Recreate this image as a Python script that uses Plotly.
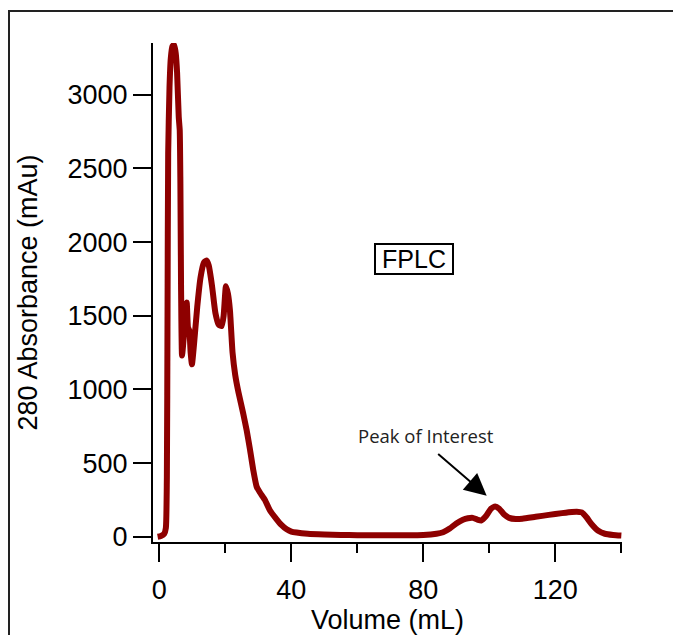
import plotly.graph_objects as go

# Data
volume_ml = [-0.5, 0.5, 1.5, 2.0, 2.3, 2.5, 2.7, 3.1, 3.5, 4.0, 4.5, 5.0, 5.4, 5.9, 6.2, 6.4, 6.6, 6.9,
             7.4, 7.9, 8.3, 8.7, 9.1, 9.5, 9.9, 10.5, 11.5, 12.5, 13.5, 14.3, 15.0, 16.0, 17.0,
             18.0, 18.9, 19.5, 20.2, 20.8, 21.4, 22.2, 23.0, 24.0, 25.4, 26.5, 27.5, 28.5, 29.5,
             30.5, 32.0, 33.5, 35.5, 37.0, 38.6, 40.0, 41.6, 45, 50, 55, 60, 65, 70, 75, 80, 84,
             86, 88, 90, 92, 93.5, 95, 96.5, 97.5, 99, 100.5, 101.8, 103, 104.5, 106, 108, 110,
             114, 118, 122, 125, 126.5, 128, 129.5, 131, 133, 135, 137.5, 140]
absorbance_mau = [0, 5, 20, 60, 400, 1500, 2600, 3050, 3250, 3330, 3340, 3280, 3150, 2850, 2760, 2400,
                  1700, 1230, 1350, 1550, 1590, 1420, 1400, 1250, 1170, 1300, 1560, 1760, 1860, 1875,
                  1840, 1700, 1520, 1440, 1430, 1500, 1700, 1650, 1540, 1250, 1100, 980, 840, 720, 590,
                  450, 340, 300, 250, 180, 120, 80, 50, 35, 28, 20, 15, 12, 10, 10, 10, 10, 12, 20,
                  30, 55, 90, 115, 125, 128, 115, 110, 140, 190, 205, 190, 150, 128, 120, 122, 135,
                  148, 160, 168, 170, 165, 130, 85, 40, 20, 12, 8]

x_tick_vals = [0, 40, 80, 120]
x_minor_vals = [20, 60, 100, 140]
y_tick_vals = [0, 500, 1000, 1500, 2000, 2500, 3000]

FONT = "Arial, Liberation Sans, sans-serif"
FS = 27

fig = go.Figure()
fig.add_trace(go.Scatter(x=volume_ml, y=absorbance_mau, mode="lines",
                         line=dict(color="#8E0000", width=6, shape="spline", smoothing=0.5),
                         hoverinfo="skip"))

fig.update_layout(
    width=673, height=635,
    margin=dict(l=153, r=51, t=43, b=93),
    paper_bgcolor="white", plot_bgcolor="white",
    showlegend=False,
    font=dict(family=FONT, size=FS, color="black"),
)
fig.update_xaxes(
    range=[-1.9, 140.2], showgrid=False, zeroline=False, automargin=False,
    showline=True, linewidth=2, linecolor="black",
    ticks="outside", ticklen=18, tickwidth=2, tickcolor="black",
    tickvals=x_tick_vals, tickfont=dict(size=FS, family=FONT), ticklabelstandoff=5,
    minor=dict(tickvals=x_minor_vals, ticks="outside", ticklen=9, tickwidth=2, tickcolor="black"),
    title=dict(text="Volume (mL)", font=dict(size=FS, family=FONT), standoff=10),
)
fig.update_yaxes(
    range=[-36, 3352], showgrid=False, zeroline=False, automargin=False,
    showline=True, linewidth=2, linecolor="black",
    ticks="outside", ticklen=18, tickwidth=2, tickcolor="black",
    tickvals=y_tick_vals, tickfont=dict(size=FS, family=FONT),
    title=dict(text="280 Absorbance (mAu)", font=dict(size=FS, family=FONT), standoff=22),
)

# Outer frame (top and left edges visible; others fall outside the page)
fx0 = (9 - 153) / 469
fy1 = (542 - 11) / 499
fig.add_shape(type="path", xref="paper", yref="paper",
              path=f"M 3,{fy1} L {fx0},{fy1} L {fx0},-3",
              line=dict(color="#222222", width=2), layer="above")

fig.add_annotation(x=(414 - 153) / 469, y=(542 - 259) / 499, xref="paper", yref="paper",
                   xanchor="center", yanchor="middle",
                   text="FPLC", showarrow=False,
                   font=dict(size=25, family=FONT, color="black"),
                   width=74, height=26, borderpad=1,
                   bordercolor="black", borderwidth=2, bgcolor="white")

fig.add_annotation(x=99.2, y=278, xref="x", yref="y", text="", showarrow=True,
                   ax=-50, ay=-43, arrowhead=2, arrowsize=2.2, arrowwidth=2, arrowcolor="black")
fig.add_annotation(x=(426 - 153) / 469, y=(542 - 435) / 499, xref="paper", yref="paper",
                   xanchor="center", yanchor="middle",
                   text="Peak of Interest", showarrow=False,
                   font=dict(size=18.5, family="Open Sans, sans-serif", color="#222222"))

fig.write_html("out.html")
